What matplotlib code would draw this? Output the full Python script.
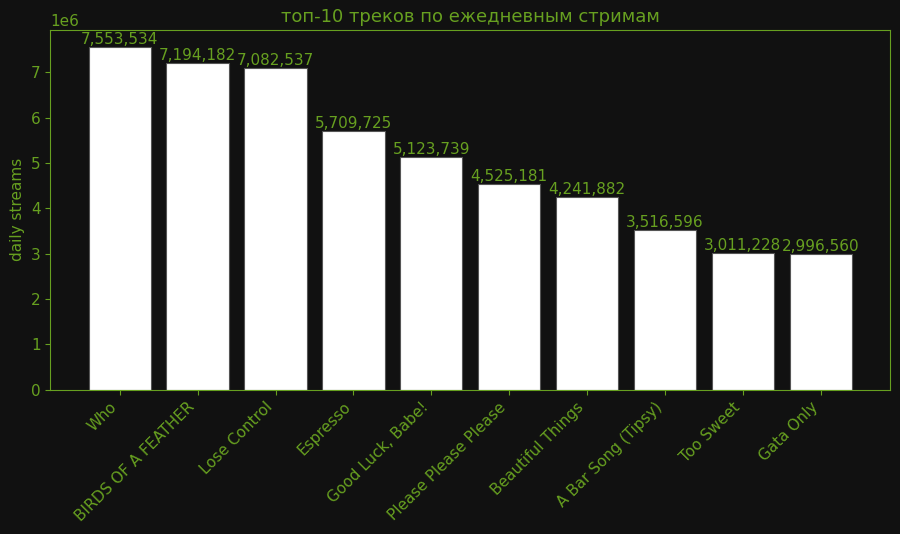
import matplotlib.pyplot as plt

tracks = ["Who", "BIRDS OF A FEATHER", "Lose Control", "Espresso", "Good Luck, Babe!",
          "Please Please Please", "Beautiful Things", "A Bar Song (Tipsy)", "Too Sweet", "Gata Only"]
streams = [7553534, 7194182, 7082537, 5709725, 5123739, 4525181, 4241882, 3516596, 3011228, 2996560]

green = '#67a020'
bg = '#111111'

fig, ax = plt.subplots(figsize=(9, 5.34), dpi=100)
fig.patch.set_facecolor(bg)
ax.set_facecolor(bg)

bars = ax.bar(tracks, streams, color='white', edgecolor='#555555', linewidth=0.8)
ax.bar_label(bars, labels=[f"{v:,}" for v in streams], color=green, fontsize=11)

ax.set_title("топ-10 треков по ежедневным стримам", color=green, fontsize=13)
ax.set_ylabel("daily streams", color=green, fontsize=11)
ax.tick_params(colors=green, labelsize=11)
ax.yaxis.get_offset_text().set_color(green)
ax.yaxis.get_offset_text().set_fontsize(11)
plt.setp(ax.get_xticklabels(), rotation=45, ha='right')
for s in ax.spines.values():
    s.set_color(green)

fig.subplots_adjust(left=0.056, right=0.989, top=0.944, bottom=0.27)
fig.savefig("out.png", facecolor=bg)
